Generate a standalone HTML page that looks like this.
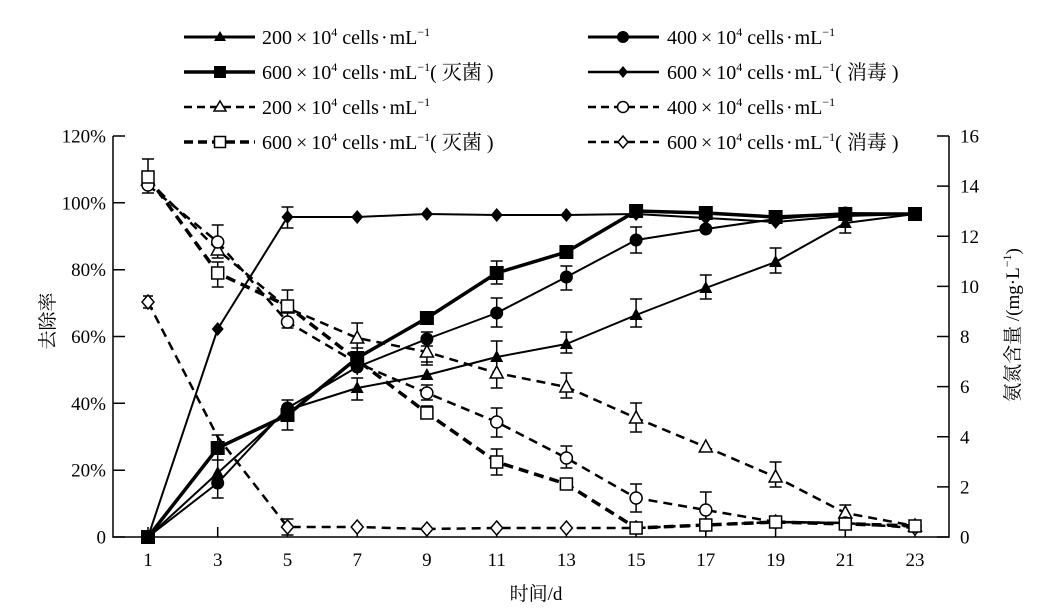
<!DOCTYPE html>
<html>
<head>
<meta charset="utf-8">
<style>
  html, body { margin:0; padding:0; background:#fff; }
  svg { display:block; }
  text { font-family: "Liberation Serif", "Noto Serif CJK SC", serif; fill:#000; }
</style>
</head>
<body>
<svg width="1045" height="609" viewBox="0 0 1045 609" xmlns="http://www.w3.org/2000/svg">
  <rect width="1045" height="609" fill="#fff"/>
  <defs>
    <polygon id="tri" points="0,-7 6.5,5 -6.5,5"/>
    <polygon id="dia" points="0,-7 6,0 0,7 -6,0"/>
  </defs>

  <!-- Legend -->
  <g stroke="#000" fill="none">
    <line x1="184" y1="37" x2="255" y2="37" stroke-width="3"/>
    <line x1="184" y1="72" x2="255" y2="72" stroke-width="3.5"/>
    <line x1="184" y1="107" x2="255" y2="107" stroke-width="2.5" stroke-dasharray="8,5"/>
    <line x1="184" y1="142" x2="255" y2="142" stroke-width="3.5" stroke-dasharray="9,5"/>
    <line x1="588" y1="37" x2="659" y2="37" stroke-width="3"/>
    <line x1="588" y1="72" x2="659" y2="72" stroke-width="2.5"/>
    <line x1="588" y1="107" x2="659" y2="107" stroke-width="2.5" stroke-dasharray="8,5"/>
    <line x1="588" y1="142" x2="659" y2="142" stroke-width="2.5" stroke-dasharray="8,5"/>
  </g>
  <polygon points="220,31 226,41 214,41" fill="#000"/>
  <rect x="214" y="66" width="12" height="12" fill="#000"/>
  <polygon points="220,101 226,111 214,111" fill="#fff" stroke="#000" stroke-width="1.5"/>
  <rect x="214.5" y="136.5" width="11" height="11" fill="#fff" stroke="#000" stroke-width="1.5"/>
  <circle cx="623" cy="37" r="6" fill="#000"/>
  <polygon points="623,66 628,72 623,78 618,72" fill="#000"/>
  <circle cx="623" cy="107" r="5.5" fill="#fff" stroke="#000" stroke-width="1.5"/>
  <polygon points="623,136 628,142 623,148 618,142" fill="#fff" stroke="#000" stroke-width="1.5"/>

  <g font-size="20">
    <text x="262" y="44">200<tspan dx="4">×</tspan><tspan dx="4">10</tspan><tspan font-size="12" dy="-8">4</tspan><tspan dy="8"> cells</tspan><tspan dx="2">·</tspan><tspan dx="2">mL</tspan><tspan font-size="12" dy="-8">−1</tspan></text>
    <text x="262" y="79">600<tspan dx="4">×</tspan><tspan dx="4">10</tspan><tspan font-size="12" dy="-8">4</tspan><tspan dy="8"> cells</tspan><tspan dx="2">·</tspan><tspan dx="2">mL</tspan><tspan font-size="12" dy="-8">−1</tspan><tspan dy="8">( 灭菌 )</tspan></text>
    <text x="262" y="114">200<tspan dx="4">×</tspan><tspan dx="4">10</tspan><tspan font-size="12" dy="-8">4</tspan><tspan dy="8"> cells</tspan><tspan dx="2">·</tspan><tspan dx="2">mL</tspan><tspan font-size="12" dy="-8">−1</tspan></text>
    <text x="262" y="149">600<tspan dx="4">×</tspan><tspan dx="4">10</tspan><tspan font-size="12" dy="-8">4</tspan><tspan dy="8"> cells</tspan><tspan dx="2">·</tspan><tspan dx="2">mL</tspan><tspan font-size="12" dy="-8">−1</tspan><tspan dy="8">( 灭菌 )</tspan></text>

    <text x="667" y="44">400<tspan dx="4">×</tspan><tspan dx="4">10</tspan><tspan font-size="12" dy="-8">4</tspan><tspan dy="8"> cells</tspan><tspan dx="2">·</tspan><tspan dx="2">mL</tspan><tspan font-size="12" dy="-8">−1</tspan></text>
    <text x="667" y="79">600<tspan dx="4">×</tspan><tspan dx="4">10</tspan><tspan font-size="12" dy="-8">4</tspan><tspan dy="8"> cells</tspan><tspan dx="2">·</tspan><tspan dx="2">mL</tspan><tspan font-size="12" dy="-8">−1</tspan><tspan dy="8">( 消毒 )</tspan></text>
    <text x="667" y="114">400<tspan dx="4">×</tspan><tspan dx="4">10</tspan><tspan font-size="12" dy="-8">4</tspan><tspan dy="8"> cells</tspan><tspan dx="2">·</tspan><tspan dx="2">mL</tspan><tspan font-size="12" dy="-8">−1</tspan></text>
    <text x="667" y="149">600<tspan dx="4">×</tspan><tspan dx="4">10</tspan><tspan font-size="12" dy="-8">4</tspan><tspan dy="8"> cells</tspan><tspan dx="2">·</tspan><tspan dx="2">mL</tspan><tspan font-size="12" dy="-8">−1</tspan><tspan dy="8">( 消毒 )</tspan></text>
  </g>

  <!-- Axes -->
  <g stroke="#000" stroke-width="1.5" fill="none">
    <path d="M113,136 V537 H949 V136"/>
    <path d="M113,537 H125 M113,470.2 H125 M113,403.3 H125 M113,336.5 H125 M113,269.7 H125 M113,202.8 H125 M113,136 H125"/>
    <path d="M937,537 H949 M937,486.9 H949 M937,436.8 H949 M937,386.6 H949 M937,336.5 H949 M937,286.4 H949 M937,236.3 H949 M937,186.1 H949 M937,136 H949"/>
    <path d="M148,537 V527 M217.7,537 V527 M287.5,537 V527 M357.2,537 V527 M426.9,537 V527 M496.7,537 V527 M566.4,537 V527 M636.1,537 V527 M705.8,537 V527 M775.6,537 V527 M845.3,537 V527 M915,537 V527"/>
  </g>

  <!-- Tick labels -->
  <g font-size="19" text-anchor="end">
    <text x="106" y="543.5">0</text>
    <text x="106" y="476.7">20%</text>
    <text x="106" y="409.8">40%</text>
    <text x="106" y="343">60%</text>
    <text x="106" y="276.2">80%</text>
    <text x="106" y="209.3">100%</text>
    <text x="106" y="142.5">120%</text>
  </g>
  <g font-size="19" text-anchor="start">
    <text x="960" y="543.5">0</text>
    <text x="960" y="493.4">2</text>
    <text x="960" y="443.3">4</text>
    <text x="960" y="393.1">6</text>
    <text x="960" y="343">8</text>
    <text x="960" y="292.9">10</text>
    <text x="960" y="242.8">12</text>
    <text x="960" y="192.6">14</text>
    <text x="960" y="142.5">16</text>
  </g>
  <g font-size="19" text-anchor="middle">
    <text x="148" y="566">1</text>
    <text x="217.7" y="566">3</text>
    <text x="287.5" y="566">5</text>
    <text x="357.2" y="566">7</text>
    <text x="426.9" y="566">9</text>
    <text x="496.7" y="566">11</text>
    <text x="566.4" y="566">13</text>
    <text x="636.1" y="566">15</text>
    <text x="705.8" y="566">17</text>
    <text x="775.6" y="566">19</text>
    <text x="845.3" y="566">21</text>
    <text x="915" y="566">23</text>
  </g>

  <!-- Axis titles -->
  <text x="536" y="600" font-size="19" text-anchor="middle">时间/d</text>
  <text transform="translate(54,321) rotate(-90)" font-size="19" text-anchor="middle">去除率</text>
  <text transform="translate(1019,325) rotate(-90)" font-size="19" text-anchor="middle">氨氮含量 /(mg·L<tspan font-size="12" dy="-8">−1</tspan><tspan dy="8">)</tspan></text>

  <!-- Series lines -->
  <g fill="none" stroke="#000" stroke-linejoin="round">
    <polyline stroke-width="2.5" stroke-dasharray="9,6" points="148,302 217.7,437 287.5,527 357.2,527 426.9,529 496.7,528 566.4,528 636.1,528 705.8,525 775.6,522 845.3,523 915,528"/>
    <polyline stroke-width="2.5" stroke-dasharray="9,6" points="148,180 217.7,250 287.5,308 357.2,338 426.9,352 496.7,373 566.4,387 636.1,418 705.8,447 775.6,477 845.3,513 915,526"/>
    <polyline stroke-width="2.5" stroke-dasharray="9,6" points="148,185 217.7,242 287.5,322 357.2,363 426.9,393 496.7,422 566.4,458 636.1,498 705.8,510 775.6,522 845.3,523 915,526"/>
    <polyline stroke-width="3.5" stroke-dasharray="10,6" points="148,177 217.7,273 287.5,306 357.2,360 426.9,413 496.7,462 566.4,484 636.1,528 705.8,525 775.6,522 845.3,524 915,526"/>
    <polyline stroke-width="2" points="148,537 217.7,329 287.5,217 357.2,217 426.9,214 496.7,215 566.4,215 636.1,214 705.8,218 775.6,222 845.3,216 915,214"/>
    <polyline stroke-width="2" points="148,537 217.7,473 287.5,410 357.2,388 426.9,375 496.7,357 566.4,344 636.1,315 705.8,288 775.6,262 845.3,223 915,214"/>
    <polyline stroke-width="2" points="148,537 217.7,483 287.5,408 357.2,367 426.9,339 496.7,313 566.4,277 636.1,240 705.8,229 775.6,219 845.3,213 915,214"/>
    <polyline stroke-width="3.5" points="148,537 217.7,448 287.5,415 357.2,358 426.9,318 496.7,273 566.4,252 636.1,211 705.8,213 775.6,217 845.3,214 915,214"/>
  </g>

  <!-- Error bars -->
  <g fill="none" stroke="#000" stroke-width="1.5">
    <path d="
      M148,159 V193 M142,159 H154 M142,193 H154
      M148,296 V308 M143,296 H153 M143,308 H153
      M217.7,435 V460 M211.7,435 H223.7 M211.7,460 H223.7
      M217.7,458 V498 M211.7,498 H223.7
      M217.7,225 V258 M211.7,225 H223.7 M211.7,258 H223.7
      M217.7,262 V287 M211.7,262 H223.7 M211.7,287 H223.7
      M287.5,207 V228 M281.5,207 H293.5 M281.5,228 H293.5
      M287.5,400 V430 M281.5,400 H293.5 M281.5,430 H293.5
      M287.5,290 V328 M281.5,290 H293.5 M281.5,328 H293.5
      M287.5,519 V535 M281.5,519 H293.5 M281.5,535 H293.5
      M357.2,378 V400 M351.2,378 H363.2 M351.2,400 H363.2
      M357.2,348 V375 M351.2,348 H363.2
      M357.2,323 V353 M351.2,323 H363.2 M351.2,353 H363.2
      M426.9,332 V346 M420.9,332 H432.9 M420.9,346 H432.9
      M426.9,342 V365 M420.9,362 H432.9 M420.9,365 H432.9
      M426.9,385 V400 M420.9,385 H432.9 M420.9,400 H432.9
      M426.9,406 V418 M420.9,406 H432.9
      M496.7,261 V284 M490.7,261 H502.7 M490.7,284 H502.7
      M496.7,298 V327 M490.7,298 H502.7 M490.7,327 H502.7
      M496.7,341 V373 M490.7,341 H502.7
      M496.7,362 V388 M490.7,388 H502.7
      M496.7,408 V437 M490.7,408 H502.7 M490.7,437 H502.7
      M496.7,449 V475 M490.7,449 H502.7 M490.7,475 H502.7
      M566.4,266 V290 M560.4,266 H572.4 M560.4,290 H572.4
      M566.4,332 V353 M560.4,332 H572.4 M560.4,353 H572.4
      M566.4,373 V398 M560.4,373 H572.4 M560.4,398 H572.4
      M566.4,446 V468 M560.4,446 H572.4 M560.4,468 H572.4
      M636.1,227 V253 M630.1,227 H642.1 M630.1,253 H642.1
      M636.1,299 V327 M630.1,299 H642.1 M630.1,327 H642.1
      M636.1,403 V432 M630.1,403 H642.1 M630.1,432 H642.1
      M636.1,484 V512 M630.1,484 H642.1 M630.1,512 H642.1
      M705.8,275 V299 M699.8,275 H711.8 M699.8,299 H711.8
      M705.8,492 V537 M699.8,492 H711.8
      M775.6,248 V273 M769.6,248 H781.6 M769.6,273 H781.6
      M775.6,462 V487 M769.6,462 H781.6 M769.6,487 H781.6
      M845.3,213 V233 M839.3,233 H851.3
      M845.3,505 V535 M839.3,505 H851.3
    "/>
  </g>

  <!-- Markers: open dashed series -->
  <g fill="#fff" stroke="#000" stroke-width="1.5">
    <g>
      <use href="#dia" x="148" y="302"/><use href="#dia" x="287.5" y="527"/><use href="#dia" x="357.2" y="527"/>
      <use href="#dia" x="426.9" y="529"/><use href="#dia" x="496.7" y="528"/><use href="#dia" x="566.4" y="528"/>
      <use href="#dia" x="636.1" y="528"/><use href="#dia" x="705.8" y="525"/><use href="#dia" x="775.6" y="522"/>
      <use href="#dia" x="845.3" y="523"/><use href="#dia" x="915" y="528"/>
    </g>
    <g>
      <use href="#tri" x="148" y="180"/><use href="#tri" x="217.7" y="250"/><use href="#tri" x="287.5" y="308"/>
      <use href="#tri" x="357.2" y="338"/><use href="#tri" x="426.9" y="352"/><use href="#tri" x="496.7" y="373"/>
      <use href="#tri" x="566.4" y="387"/><use href="#tri" x="636.1" y="418"/><use href="#tri" x="705.8" y="447"/>
      <use href="#tri" x="775.6" y="477"/><use href="#tri" x="845.3" y="513"/><use href="#tri" x="915" y="526"/>
    </g>
    <g>
      <circle cx="148" cy="185" r="6"/><circle cx="217.7" cy="242" r="6"/><circle cx="287.5" cy="322" r="6"/>
      <circle cx="357.2" cy="363" r="6"/><circle cx="426.9" cy="393" r="6"/><circle cx="496.7" cy="422" r="6"/>
      <circle cx="566.4" cy="458" r="6"/><circle cx="636.1" cy="498" r="6"/><circle cx="705.8" cy="510" r="6"/>
      <circle cx="775.6" cy="522" r="6"/><circle cx="845.3" cy="523" r="6"/><circle cx="915" cy="526" r="6"/>
    </g>
    <g>
      <rect x="142" y="171" width="12" height="12"/><rect x="211.7" y="267" width="12" height="12"/>
      <rect x="281.5" y="300" width="12" height="12"/><rect x="351.2" y="354" width="12" height="12"/>
      <rect x="420.9" y="407" width="12" height="12"/><rect x="490.7" y="456" width="12" height="12"/>
      <rect x="560.4" y="478" width="12" height="12"/><rect x="630.1" y="522" width="12" height="12"/>
      <rect x="699.8" y="519" width="12" height="12"/><rect x="769.6" y="516" width="12" height="12"/>
      <rect x="839.3" y="518" width="12" height="12"/><rect x="909" y="520" width="12" height="12"/>
    </g>
  </g>

  <!-- Markers: filled solid series -->
  <g fill="#000" stroke="none">
    <use href="#tri" x="217.7" y="473"/><use href="#tri" x="287.5" y="410"/>
    <use href="#tri" x="357.2" y="388"/><use href="#tri" x="426.9" y="375"/><use href="#tri" x="496.7" y="357"/>
    <use href="#tri" x="566.4" y="344"/><use href="#tri" x="636.1" y="315"/><use href="#tri" x="705.8" y="288"/>
    <use href="#tri" x="775.6" y="262"/><use href="#tri" x="845.3" y="223"/><use href="#tri" x="915" y="214"/>
    <circle cx="217.7" cy="483" r="6.5"/><circle cx="287.5" cy="408" r="6.5"/>
    <circle cx="357.2" cy="367" r="6.5"/><circle cx="426.9" cy="339" r="6.5"/><circle cx="496.7" cy="313" r="6.5"/>
    <circle cx="566.4" cy="277" r="6.5"/><circle cx="636.1" cy="240" r="6.5"/><circle cx="705.8" cy="229" r="6.5"/>
    <circle cx="775.6" cy="219" r="6.5"/><circle cx="845.3" cy="213" r="6.5"/><circle cx="915" cy="214" r="6.5"/>
    <use href="#dia" x="217.7" y="329"/><use href="#dia" x="287.5" y="217"/>
    <use href="#dia" x="357.2" y="217"/><use href="#dia" x="426.9" y="214"/><use href="#dia" x="496.7" y="215"/>
    <use href="#dia" x="566.4" y="215"/><use href="#dia" x="636.1" y="214"/><use href="#dia" x="705.8" y="218"/>
    <use href="#dia" x="775.6" y="222"/><use href="#dia" x="845.3" y="216"/>
    <rect x="141" y="530" width="14" height="14"/>
    <rect x="210.7" y="441" width="14" height="14"/><rect x="280.5" y="408" width="14" height="14"/>
    <rect x="350.2" y="351" width="14" height="14"/><rect x="419.9" y="311" width="14" height="14"/>
    <rect x="489.7" y="266" width="14" height="14"/><rect x="559.4" y="245" width="14" height="14"/>
    <rect x="629.1" y="204" width="14" height="14"/><rect x="698.8" y="206" width="14" height="14"/>
    <rect x="768.6" y="210" width="14" height="14"/><rect x="838.3" y="207" width="14" height="14"/>
    <rect x="908" y="207" width="14" height="14"/>
  </g>
</svg>
</body>
</html>
